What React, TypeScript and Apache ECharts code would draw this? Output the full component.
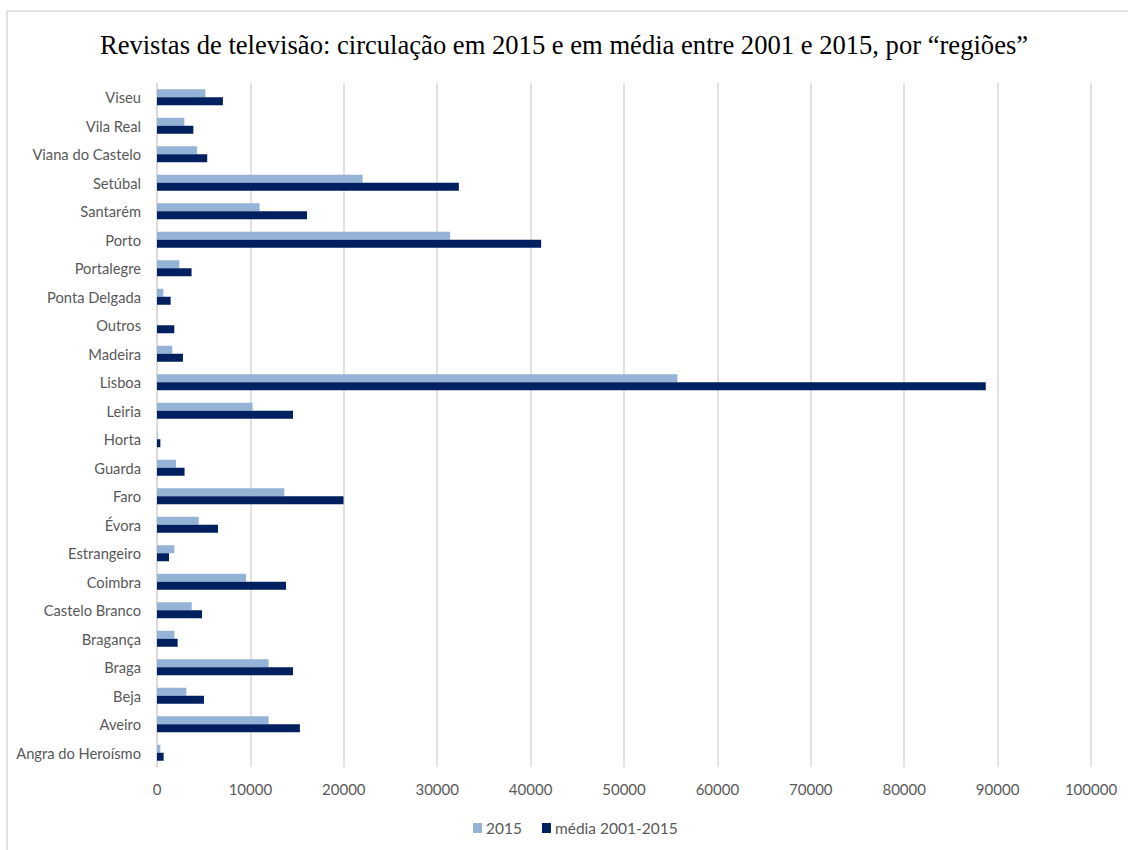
import React, { useEffect, useRef } from "react";
import * as echarts from "echarts";

const categories = [
  "Angra do Heroísmo", "Aveiro", "Beja", "Braga", "Bragança", "Castelo Branco",
  "Coimbra", "Estrangeiro", "Évora", "Faro", "Guarda", "Horta", "Leiria", "Lisboa",
  "Madeira", "Outros", "Ponta Delgada", "Portalegre", "Porto", "Santarém", "Setúbal",
  "Viana do Castelo", "Vila Real", "Viseu",
];

const values2015 = [
  360, 11950, 3140, 11950, 1860, 3720, 9530, 1860, 4470, 13630, 2040, 60, 10230, 55720,
  1640, 0, 680, 2390, 31390, 10980, 22010, 4290, 2930, 5180,
];

const valuesMedia = [
  710, 15300, 5030, 14560, 2210, 4820, 13810, 1290, 6530, 19970, 2950, 360, 14560, 88730,
  2780, 1850, 1460, 3700, 41130, 16060, 32320, 5380, 3890, 7060,
];

const seriesNames = ["2015", "média 2001-2015"];
const titleText = "Revistas de televisão: circulação em 2015 e em média entre 2001 e 2015, por “regiões”";

const LABEL_FONT = "Lato, 'Open Sans', sans-serif";

export default function App() {
  const ref = useRef<HTMLDivElement>(null);
  useEffect(() => {
    if (!ref.current) return;
    const chart = echarts.init(ref.current, undefined, { renderer: "svg" });
    chart.setOption({
      animation: false,
      backgroundColor: "#ffffff",
      title: {
        text: titleText,
        left: "center",
        top: 26,
        textStyle: {
          fontFamily: "'Liberation Serif', 'Times New Roman', serif",
          fontSize: 26.6,
          fontWeight: "normal",
          color: "#000000",
        },
      },
      graphic: [
        {
          type: "rect",
          shape: { x: 7, y: 11, width: 1140, height: 860 },
          style: { fill: "none", stroke: "#d9d9d9", lineWidth: 1.5 },
          silent: true,
          z: -10,
        },
      ],
      legend: {
        data: seriesNames,
        left: 473,
        top: 820,
        padding: 0,
        itemWidth: 9,
        itemHeight: 10,
        itemGap: 20,
        icon: "rect",
        textStyle: { fontFamily: LABEL_FONT, fontSize: 15.5, color: "#595959", padding: [0, 0, 0, -1] },
      },
      grid: { left: 157, right: 37, top: 83, bottom: 83, containLabel: false },
      xAxis: {
        type: "value",
        min: 0,
        max: 100000,
        interval: 10000,
        axisLine: { show: false },
        axisTick: { show: false },
        splitLine: { show: true, lineStyle: { color: "#d9d9d9", width: 1.5 } },
        axisLabel: {
          fontFamily: LABEL_FONT,
          fontSize: 15,
          color: "#595959",
          margin: 14,
          formatter: (v: number) => String(v),
        },
      },
      yAxis: {
        type: "category",
        data: categories,
        axisLine: { show: true, lineStyle: { color: "#d9d9d9", width: 1.5 } },
        axisTick: { show: false },
        axisLabel: { fontFamily: LABEL_FONT, fontSize: 14.7, color: "#595959", margin: 16 },
      },
      series: [
        {
          name: seriesNames[0],
          type: "bar",
          data: values2015,
          barWidth: 8,
          barGap: "0%",
          itemStyle: { color: "#95b3d7" },
        },
        {
          name: seriesNames[1],
          type: "bar",
          data: valuesMedia,
          barWidth: 8,
          barGap: "0%",
          itemStyle: { color: "#002060" },
        },
      ],
    });
    return () => chart.dispose();
  }, []);
  return (
    <div
      ref={ref}
      style={{ position: "fixed", left: 0, top: 0, width: 1128, height: 850 }}
    />
  );
}
